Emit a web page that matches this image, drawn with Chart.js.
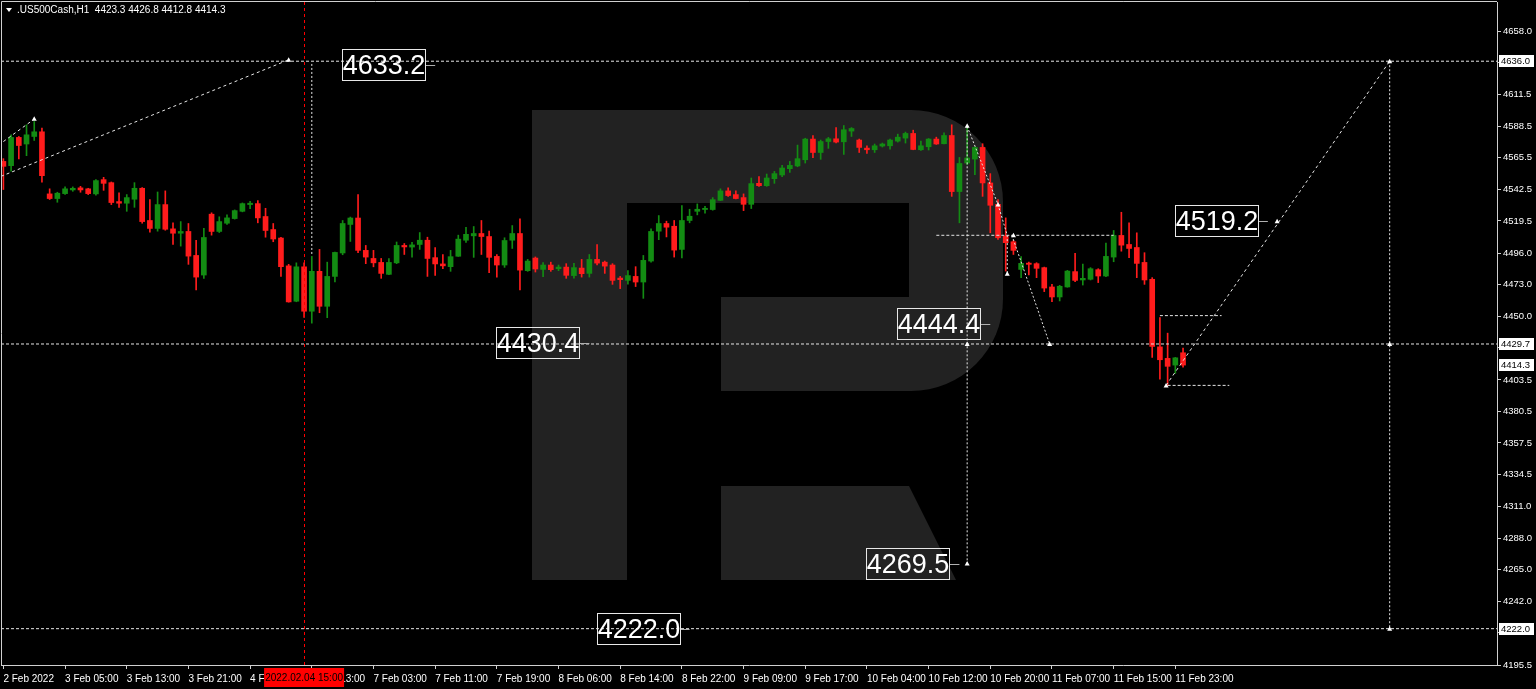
<!DOCTYPE html>
<html>
<head>
<meta charset="utf-8">
<script src="https://cdn.jsdelivr.net/npm/chart.js@4.4.0/dist/chart.umd.min.js"></script>
<style>
  html, body { margin: 0; padding: 0; background: #000; overflow: hidden; }
  canvas { display: block; }
</style>
</head>
<body>
<canvas id="chart" width="1536" height="689"></canvas>
<script>
// H1 candles, 2 Feb 2022 .. 11 Feb 2022
const opens = [4562.9,4559.8,4580.4,4575.6,4581.1,4584.5,4539.2,4535.8,4539.4,4542.1,4543.6,4542.9,4539.2,4549.6,4547.4,4533.6,4532.4,4535.3,4543.3,4519.8,
  4514.0,4531.4,4513.7,4510.5,4511.8,4494.3,4480.0,4524.4,4511.8,4517.8,4521.2,4526.5,4531.4,4532.1,4522.7,4513.2,4507.0,4486.7,4460.9,4486.0,
  4453.6,4482.7,4457.2,4479.0,4496.1,4516.9,4521.6,4498.0,4492.1,4489.2,4480.5,4488.9,4501.6,4500.4,4502.3,4505.4,4492.7,4488.1,4486.1,4493.7,
  4505.4,4508.6,4510.3,4508.1,4493.6,4487.3,4505.4,4510.3,4483.2,4492.4,4484.1,4487.3,4484.6,4485.8,4479.6,4485.1,4481.2,4491.4,4489.4,4487.3,
  4477.8,4476.1,4479.0,4474.9,4490.2,4512.0,4517.6,4515.6,4498.7,4519.8,4526.5,4527.8,4527.8,4534.5,4541.4,4538.7,4536.5,4531.6,4546.9,4545.2,
  4550.3,4553.0,4557.6,4559.6,4564.1,4579.2,4569.4,4577.4,4579.4,4577.2,4585.0,4578.5,4572.6,4571.4,4574.1,4574.3,4577.7,4579.9,4583.3,4571.4,
  4573.6,4579.2,4575.8,4581.8,4540.9,4561.7,4564.6,4573.1,4547.2,4531.6,4508.4,4504.3,4484.1,4488.7,4488.3,4485.4,4471.3,4464.0,4471.3,4482.5,
  4476.4,4476.9,4483.9,4479.3,4493.1,4508.9,4502.3,4500.1,4489.2,4476.9,4427.6,4419.2,4414.3,4423.3];
const highs = [4564.9,4582.3,4581.1,4589.6,4592.0,4587.2,4542.9,4540.4,4544.3,4544.3,4544.7,4543.3,4549.6,4551.3,4547.9,4539.9,4538.7,4547.4,4543.8,4535.0,
  4540.6,4541.4,4518.1,4519.0,4517.6,4505.4,4514.0,4525.4,4522.5,4523.9,4527.5,4532.6,4533.8,4534.3,4528.7,4517.6,4507.6,4487.8,4488.9,4488.9,
  4493.6,4498.7,4489.4,4496.7,4519.8,4522.3,4538.7,4501.6,4498.0,4492.1,4492.1,4504.1,4503.0,4503.8,4511.0,4507.6,4500.0,4495.0,4498.0,4509.1,
  4514.8,4515.4,4519.8,4512.0,4495.0,4507.2,4516.1,4521.0,4491.4,4493.2,4489.0,4489.4,4487.3,4488.3,4488.5,4491.4,4495.0,4502.3,4490.2,4488.3,
  4479.0,4483.2,4486.1,4494.3,4513.7,4523.4,4519.3,4519.8,4530.7,4528.0,4531.9,4530.2,4536.5,4542.9,4543.6,4541.4,4539.2,4550.8,4551.8,4553.7,
  4555.6,4560.0,4562.9,4574.8,4579.8,4581.8,4578.5,4580.4,4587.6,4589.1,4587.6,4579.2,4574.3,4575.6,4576.3,4579.2,4582.8,4584.3,4585.7,4577.7,
  4579.6,4580.6,4583.8,4589.6,4565.8,4589.1,4573.6,4575.8,4554.0,4535.0,4521.7,4505.2,4493.4,4489.4,4489.0,4485.8,4473.2,4472.5,4483.4,4495.8,
  4488.0,4485.4,4484.6,4503.3,4512.5,4525.8,4518.1,4510.8,4496.3,4478.1,4449.0,4437.6,4419.9,4426.8];
const lows = [4542.4,4555.7,4564.7,4567.1,4578.2,4547.7,4535.1,4533.1,4538.9,4541.1,4540.4,4538.7,4538.2,4541.8,4531.4,4529.4,4526.5,4529.4,4517.8,4511.3,
  4512.0,4512.7,4502.3,4501.1,4487.8,4469.1,4477.6,4509.1,4511.0,4516.9,4520.8,4526.1,4528.5,4518.1,4507.6,4504.3,4479.0,4460.2,4460.5,4449.0,
  4444.9,4452.5,4448.9,4475.0,4494.8,4504.5,4496.3,4488.3,4486.0,4477.6,4480.2,4488.3,4495.0,4493.1,4498.7,4479.0,4479.8,4484.6,4482.7,4493.6,
  4503.8,4492.9,4495.0,4481.7,4478.5,4485.6,4499.4,4469.1,4482.7,4482.2,4478.8,4482.7,4483.2,4477.6,4477.8,4478.5,4478.5,4487.3,4481.2,4473.2,
  4470.1,4473.4,4471.6,4463.0,4489.4,4505.8,4507.8,4493.1,4492.4,4518.1,4523.9,4525.1,4527.3,4534.3,4537.4,4535.6,4527.0,4528.5,4544.7,4544.7,
  4546.9,4551.8,4554.9,4559.0,4561.7,4565.6,4564.4,4572.4,4576.3,4568.0,4581.1,4569.4,4568.7,4569.4,4573.4,4571.9,4577.0,4576.3,4571.4,4570.9,
  4571.2,4575.3,4575.6,4537.4,4518.1,4560.5,4553.2,4537.4,4510.8,4506.0,4482.9,4495.0,4478.1,4480.0,4478.1,4467.9,4460.6,4461.1,4471.1,4475.2,
  4472.7,4476.4,4474.5,4478.8,4489.7,4497.4,4492.6,4478.1,4473.2,4419.9,4404.1,4399.5,4408.3,4412.8];
const closes = [4559.3,4580.4,4574.5,4582.3,4584.5,4552.5,4535.8,4539.7,4542.9,4543.3,4542.1,4539.4,4548.9,4546.9,4532.9,4532.4,4536.5,4543.3,4519.0,4514.0,
  4531.4,4513.4,4510.5,4511.8,4493.8,4478.5,4507.4,4511.8,4519.0,4521.7,4527.0,4532.1,4532.4,4521.7,4512.5,4506.3,4486.1,4460.4,4486.0,4453.6,
  4482.7,4457.2,4479.0,4496.5,4517.6,4521.6,4498.0,4493.1,4488.9,4481.2,4489.2,4501.6,4500.5,4502.0,4505.4,4492.1,4488.1,4486.7,4493.4,4506.2,
  4509.7,4510.3,4508.1,4492.9,4487.3,4505.2,4510.3,4483.6,4490.2,4484.4,4487.3,4483.9,4485.8,4479.8,4485.4,4481.0,4491.4,4488.7,4486.5,4476.1,
  4476.6,4479.6,4474.9,4490.7,4511.8,4517.6,4514.9,4498.2,4519.8,4522.9,4528.0,4528.7,4535.0,4541.4,4538.0,4535.8,4531.6,4546.7,4545.2,4550.8,
  4554.0,4558.1,4560.0,4564.9,4579.2,4569.4,4577.4,4579.4,4577.0,4586.0,4586.9,4573.1,4571.4,4574.3,4575.6,4578.5,4580.6,4583.3,4571.6,4574.3,
  4579.2,4575.6,4581.8,4540.9,4561.4,4565.4,4573.1,4547.2,4530.9,4507.2,4503.6,4498.0,4488.5,4487.8,4484.9,4470.5,4464.0,4471.8,4482.9,4476.1,
  4477.6,4484.6,4479.3,4493.6,4508.9,4501.8,4499.4,4488.5,4476.4,4427.9,4418.2,4413.4,4419.6,4414.3];

// time axis: one label every 8 bars
const tickLabels = ['2 Feb 2022', '3 Feb 05:00', '3 Feb 13:00', '3 Feb 21:00', '4 Feb 05:00', '4 Feb 13:00',
  '7 Feb 03:00', '7 Feb 11:00', '7 Feb 19:00', '8 Feb 06:00', '8 Feb 14:00', '8 Feb 22:00', '9 Feb 09:00',
  '9 Feb 17:00', '10 Feb 04:00', '10 Feb 12:00', '10 Feb 20:00', '11 Feb 07:00', '11 Feb 15:00', '11 Feb 23:00'];
const priceTicks = [4658.0, 4635.0, 4611.5, 4588.5, 4565.5, 4542.5, 4519.5, 4496.0, 4473.0, 4450.0, 4427.0,
  4403.5, 4380.5, 4357.5, 4334.5, 4311.0, 4288.0, 4265.0, 4242.0, 4219.0, 4195.5];
const axisMarks = [4636.0, 4429.7, 4414.3, 4222.0];

// analysis objects: horizontal levels and forecast paths as [bar, price]
const levelLines = [4636.0, 4429.7, 4222.0];
const channelLow = [[-0.31, 4552.0], [37, 4637.0]];
const channelHigh = [[0, 4577.4], [4, 4593.8]];
const drop40 = [[40, 4634.0], [40, 4494.0]];
const drop125 = [[125, 4588.5], [125, 4269.5]];
const zigzag = [[125, 4588.5], [129, 4531.5], [130.2, 4509.0], [130.2, 4481.0]];
const zigzag2 = [[130.8, 4509.0], [135.7, 4429.7]];
const level4509 = [[121, 4509.0], [144, 4509.0]];
const forecast = [[150.8, 4399.5], [179.8, 4636.0]];
const boxTop = [[150, 4450.4], [158, 4450.4]];
const boxLow = [[151, 4399.5], [159, 4399.5]];
const drop180 = [[179.8, 4636.0], [179.8, 4222.0]];
const markers = [[4, 4594], [37, 4637], [125, 4589], [129, 4531.5], [130.2, 4481], [131, 4509],
  [135.7, 4429.7], [125, 4429.7], [125, 4269.5], [150.8, 4399.5], [165.2, 4519.2], [179.8, 4636],
  [179.8, 4429.7], [179.8, 4222]];

// big price labels and the bar their pointer ends on
const labelValues = [4633.2, 4430.4, 4444.4, 4269.5, 4222.0, 4519.2];
const labelBars = [56, 76, 128, 124, 89, 164];

const crossBar = 39;
const crossText = '2022.02.04 15:00';

const xMin = -0.31, xMax = 193.72;
const bull = '#138c13', bear = '#ff1c1c';

Chart.defaults.font.family = "'Liberation Sans', Arial, sans-serif";
Chart.defaults.color = '#ffffff';

const idx = opens.map((_, i) => i);
const candleColors = idx.map(i => closes[i] >= opens[i] ? bull : bear);

function path(pts, dash) {
  return {
    type: 'line',
    data: pts.map(p => ({ x: p[0], y: p[1] })),
    borderColor: '#e6e6e6',
    borderWidth: 1,
    borderDash: dash,
    pointRadius: 0,
    fill: false,
    tension: 0,
    order: 1
  };
}

const lineSets = [
  ...levelLines.map(v => path([[xMin, v], [xMax, v]], [3, 2])),
  path(channelLow, [3, 3]),
  path(channelHigh, [3, 3]),
  path(drop40, [2, 2]),
  path(drop125, [2, 2]),
  path(zigzag, [2, 2]),
  path(zigzag2, [2, 2]),
  path(level4509, [3, 2]),
  path(forecast, [3, 3]),
  path(boxTop, [3, 2]),
  path(boxLow, [3, 2]),
  path(drop180, [2, 2])
];

// watermark, title, price labels and the crosshair
const decor = {
  id: 'decor',
  beforeDraw(chart) {
    const c = chart.ctx;
    c.save();
    c.fillStyle = '#000';
    c.fillRect(0, 0, chart.width, chart.height);
    c.restore();
  },
  beforeDatasetsDraw(chart) {
    const c = chart.ctx;
    c.save();
    c.fillStyle = '#222222';
    c.beginPath();
    c.moveTo(532, 110);
    c.lineTo(911, 110);
    c.arcTo(1003, 110, 1003, 202, 92);
    c.lineTo(1003, 299);
    c.arcTo(1003, 391, 911, 391, 92);
    c.lineTo(532, 391);
    c.closePath();
    c.fill();
    c.fillRect(532, 110, 95, 470);
    c.beginPath();
    c.moveTo(721, 486);
    c.lineTo(909, 486);
    c.lineTo(956, 580);
    c.lineTo(721, 580);
    c.closePath();
    c.fill();
    c.fillStyle = '#000';
    c.fillRect(627, 203, 282, 94);
    c.fillRect(627, 297, 94, 94);
    c.restore();
  },
  afterDatasetsDraw(chart) {
    const c = chart.ctx, xs = chart.scales.x, ys = chart.scales.y, a = chart.chartArea;
    c.save();
    // small arrow marks on the object anchors
    c.fillStyle = '#ffffff';
    markers.forEach(p => {
      const mx = xs.getPixelForValue(p[0]), my = ys.getPixelForValue(p[1]);
      c.beginPath();
      c.moveTo(mx, my - 2.5);
      c.lineTo(mx + 2.5, my + 2);
      c.lineTo(mx - 2.5, my + 2);
      c.closePath();
      c.fill();
    });

    // red crosshair
    const cx = Math.round(xs.getPixelForValue(crossBar)) + 0.5;
    c.strokeStyle = '#ff0000';
    c.lineWidth = 1;
    c.setLineDash([3, 3]);
    c.beginPath();
    c.moveTo(cx, a.top);
    c.lineTo(cx, a.bottom);
    c.stroke();
    c.setLineDash([]);

    // big labels
    labelValues.forEach((v, k) => {
      const ax = xs.getPixelForValue(labelBars[k]);
      const ay = Math.round(ys.getPixelForValue(v)) + 0.5;
      const right = Math.round(ax - 10), left = right - 83;
      c.strokeStyle = '#b0b0b0';
      c.beginPath();
      c.moveTo(right, ay);
      c.lineTo(ax, ay);
      c.stroke();
      c.strokeStyle = '#e8e8e8';
      c.strokeRect(left + 0.5, ay - 16, 83, 31);
      c.fillStyle = '#ffffff';
      c.font = "27px 'Liberation Sans', Arial, sans-serif";
      c.textAlign = 'center';
      c.textBaseline = 'middle';
      c.fillText(v.toFixed(1), left + 42, ay + 1);
    });

    // title
    const last = opens.length - 1;
    c.fillStyle = '#ffffff';
    c.beginPath();
    c.moveTo(6, 8);
    c.lineTo(12, 8);
    c.lineTo(9, 12);
    c.closePath();
    c.fill();
    c.font = "10px 'Liberation Sans', Arial, sans-serif";
    c.textAlign = 'left';
    c.textBaseline = 'middle';
    c.fillText('.US500Cash,H1  ' + [opens[last], highs[last], lows[last], closes[last]].map(v => v.toFixed(1)).join(' '), 17, 10);
    c.restore();
  },
  afterDraw(chart) {
    const c = chart.ctx, xs = chart.scales.x, ys = chart.scales.y, a = chart.chartArea;
    c.save();
    // frame top / left
    c.strokeStyle = '#d0d0d0';
    c.lineWidth = 1;
    c.beginPath();
    c.moveTo(1.5, a.bottom);
    c.lineTo(1.5, 1.5);
    c.lineTo(a.right, 1.5);
    c.stroke();

    // boxed prices on the axis
    c.font = "9.5px 'Liberation Sans', Arial, sans-serif";
    c.textBaseline = 'middle';
    c.textAlign = 'left';
    axisMarks.forEach(v => {
      const y = Math.round(ys.getPixelForValue(v));
      c.fillStyle = '#ffffff';
      c.fillRect(a.right + 2, y - 6, 35, 12);
      c.fillStyle = '#000000';
      c.fillText(v.toFixed(1), a.right + 4, y);
    });

    // crosshair time label
    const cx = xs.getPixelForValue(crossBar);
    c.fillStyle = '#ff0000';
    c.fillRect(cx - 40, a.bottom + 3, 80, 19);
    c.fillStyle = '#000000';
    c.font = "10px 'Liberation Sans', Arial, sans-serif";
    c.textAlign = 'center';
    c.fillText(crossText, cx, a.bottom + 13);
    c.restore();
  }
};

new Chart(document.getElementById('chart'), {
  type: 'bar',
  data: {
    datasets: [
      {
        label: 'wicks',
        data: idx.map(i => ({ x: i, y: [lows[i], highs[i]] })),
        backgroundColor: candleColors,
        barThickness: 1,
        grouped: false,
        order: 3
      },
      {
        label: 'bodies',
        data: idx.map(i => ({ x: i, y: [opens[i], closes[i]] })),
        backgroundColor: candleColors,
        barThickness: 5,
        minBarLength: 1,
        grouped: false,
        order: 2
      },
      ...lineSets
    ]
  },
  options: {
    responsive: false,
    devicePixelRatio: 1,
    animation: false,
    events: [],
    layout: { padding: { left: 1, top: 2, right: 0, bottom: 0 } },
    plugins: {
      legend: { display: false },
      tooltip: { enabled: false }
    },
    scales: {
      x: {
        type: 'linear',
        min: xMin,
        max: xMax,
        offset: false,
        afterBuildTicks: s => { s.ticks = tickLabels.map((_, k) => ({ value: k * 8 })); },
        afterFit: s => { s.height = 24; s.paddingLeft = 0; s.paddingRight = 0; },
        ticks: {
          autoSkip: false,
          maxRotation: 0,
          minRotation: 0,
          align: 'start',
          padding: 4,
          color: '#ffffff',
          font: { size: 10 },
          callback: v => tickLabels[Math.round(v / 8)] || ''
        },
        grid: { drawOnChartArea: false, drawTicks: true, tickLength: 4, color: '#d0d0d0', offset: false },
        border: { color: '#d0d0d0', width: 1 }
      },
      y: {
        position: 'right',
        min: 4195.5,
        max: 4679.2,
        afterBuildTicks: s => { s.ticks = priceTicks.map(v => ({ value: v })); },
        afterFit: s => { s.width = 39; s.paddingTop = 0; s.paddingBottom = 0; },
        ticks: {
          autoSkip: false,
          padding: 2,
          color: '#ffffff',
          font: { size: 9.5 },
          callback: v => v.toFixed(1)
        },
        grid: { drawOnChartArea: false, drawTicks: true, tickLength: 4, color: '#d0d0d0' },
        border: { color: '#d0d0d0', width: 1 }
      }
    }
  },
  plugins: [decor]
});
</script>
</body>
</html>
